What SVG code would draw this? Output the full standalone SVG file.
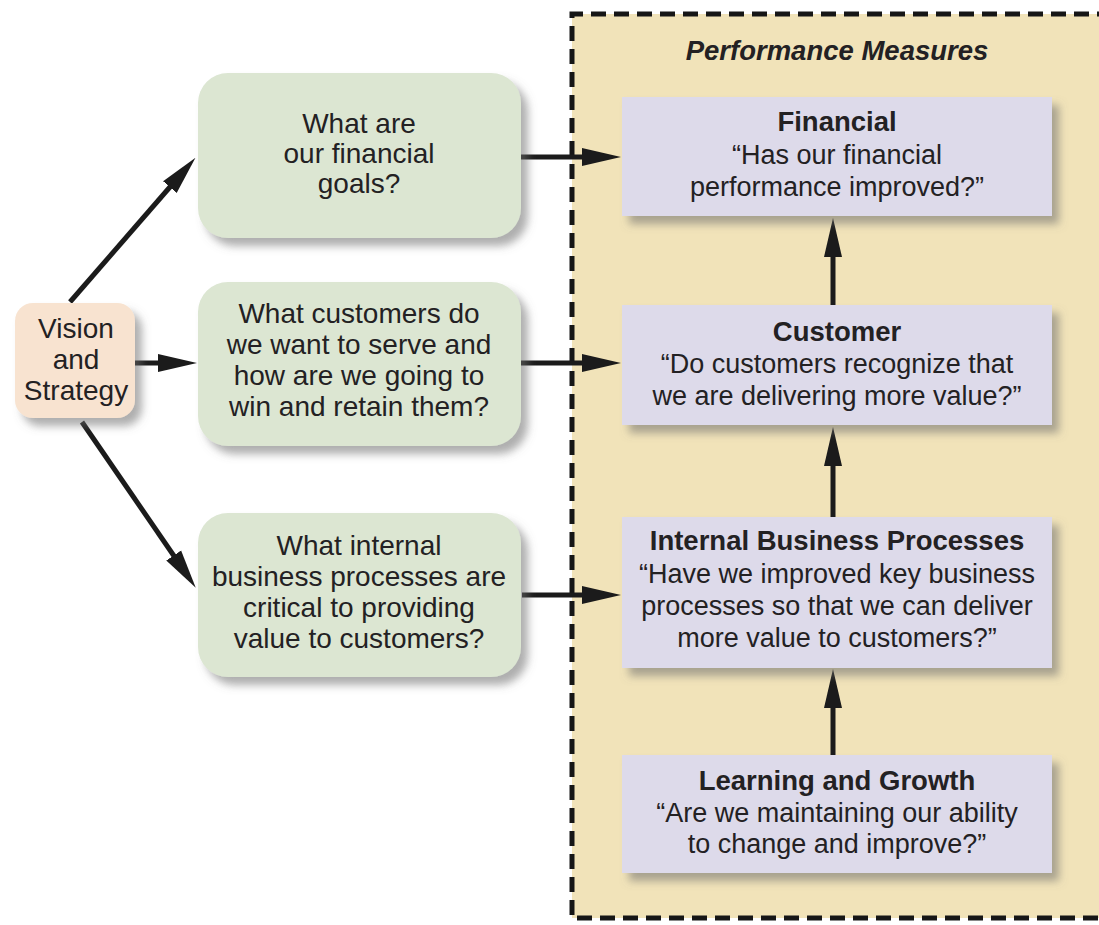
<svg xmlns="http://www.w3.org/2000/svg" width="1099" height="925" viewBox="0 0 1099 925">
  <defs>
    <filter id="shadow" x="-10%" y="-10%" width="130%" height="140%">
      <feDropShadow dx="7" dy="8" stdDeviation="4" flood-color="#6d6d6d" flood-opacity="0.55"/>
    </filter>
    <marker id="arrow" markerUnits="userSpaceOnUse" markerWidth="40" markerHeight="20" viewBox="0 0 40 20" refX="20" refY="10" orient="auto">
      <path d="M0,1 L39,10 L0,19 Z" fill="#1b1b1b"/>
    </marker>
  </defs>
  <style>
    text { font-family: "Liberation Sans", Arial, Helvetica, sans-serif; fill: #232123; text-anchor: middle; }
    .q { font-size: 28px; }
    .p { font-size: 27px; }
    .t { font-size: 27.5px; font-weight: bold; }
    .title { font-size: 27.5px; font-weight: bold; font-style: italic; }
    .green { fill: #dce6d2; filter: url(#shadow); }
    .purple { fill: #dddaea; filter: url(#shadow); }
    .vision { fill: #f8e3d0; filter: url(#shadow); }
    .conn { stroke: #1b1b1b; stroke-width: 5; fill: none; marker-end: url(#arrow); }
  </style>

  <rect width="1099" height="925" fill="#ffffff"/>

  <!-- Performance measures panel: open on the right, dashed on top, left and bottom -->
  <g id="performance-measures">
    <rect x="572" y="14" width="540" height="904" fill="#f1e3b9"/>
    <path d="M1112,14 H572 V918 H1112" fill="none" stroke="#161616" stroke-width="5" stroke-dasharray="15 8"/>
    <text class="title" x="837" y="60">Performance Measures</text>
  </g>

  <!-- Connectors -->
  <g id="connectors">
    <line class="conn" x1="70" y1="302" x2="183" y2="172"/>
    <line class="conn" x1="135" y1="363" x2="178" y2="363"/>
    <line class="conn" x1="82" y1="422" x2="185" y2="572"/>
    <line class="conn" x1="521" y1="157" x2="602" y2="157"/>
    <line class="conn" x1="521" y1="363" x2="602" y2="363"/>
    <line class="conn" x1="522" y1="595" x2="602" y2="595"/>
    <line class="conn" x1="833" y1="305" x2="833" y2="237"/>
    <line class="conn" x1="833" y1="517" x2="833" y2="446"/>
    <line class="conn" x1="833" y1="755" x2="833" y2="688"/>
  </g>

  <!-- Vision and Strategy -->
  <g id="vision-strategy">
    <rect class="vision" x="15" y="303" width="120" height="115" rx="18"/>
    <text class="q" x="76" y="338">Vision</text>
    <text class="q" x="76" y="369">and</text>
    <text class="q" x="76" y="400">Strategy</text>
  </g>

  <!-- Strategic questions -->
  <g id="q-financial">
    <rect class="green" x="198" y="73" width="323" height="165" rx="30"/>
    <text class="q" x="359" y="133">What are</text>
    <text class="q" x="359" y="163">our financial</text>
    <text class="q" x="359" y="193">goals?</text>
  </g>
  <g id="q-customer">
    <rect class="green" x="198" y="282" width="323" height="164" rx="30"/>
    <text class="q" x="359" y="323">What customers do</text>
    <text class="q" x="359" y="354">we want to serve and</text>
    <text class="q" x="359" y="385">how are we going to</text>
    <text class="q" x="359" y="416">win and retain them?</text>
  </g>
  <g id="q-internal">
    <rect class="green" x="198" y="513" width="323" height="164" rx="30"/>
    <text class="q" x="359" y="555">What internal</text>
    <text class="q" x="359" y="586">business processes are</text>
    <text class="q" x="359" y="617">critical to providing</text>
    <text class="q" x="359" y="648">value to customers?</text>
  </g>

  <!-- Perspectives -->
  <g id="m-financial">
    <rect class="purple" x="622" y="97" width="430" height="119"/>
    <text class="t" x="837" y="131">Financial</text>
    <text class="p" x="837" y="164">“Has our financial</text>
    <text class="p" x="837" y="196">performance improved?”</text>
  </g>
  <g id="m-customer">
    <rect class="purple" x="622" y="305" width="430" height="120"/>
    <text class="t" x="837" y="341">Customer</text>
    <text class="p" x="837" y="373">“Do customers recognize that</text>
    <text class="p" x="837" y="405">we are delivering more value?”</text>
  </g>
  <g id="m-internal">
    <rect class="purple" x="622" y="517" width="430" height="151"/>
    <text class="t" x="837" y="550">Internal Business Processes</text>
    <text class="p" x="837" y="583">“Have we improved key business</text>
    <text class="p" x="837" y="615">processes so that we can deliver</text>
    <text class="p" x="837" y="647">more value to customers?”</text>
  </g>
  <g id="m-learning">
    <rect class="purple" x="622" y="755" width="430" height="118"/>
    <text class="t" x="837" y="790">Learning and Growth</text>
    <text class="p" x="837" y="822">“Are we maintaining our ability</text>
    <text class="p" x="837" y="853">to change and improve?”</text>
  </g>
</svg>
